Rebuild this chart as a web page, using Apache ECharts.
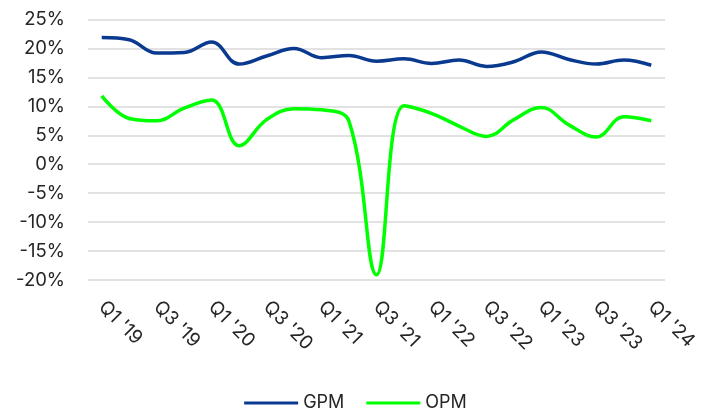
<!DOCTYPE html>
<html><head><meta charset="utf-8">
<script src="https://cdn.jsdelivr.net/npm/echarts@6/dist/echarts.min.js"></script>
<style>html,body{margin:0;padding:0;background:#fff}#c{width:711px;height:412px}</style>
</head><body><div id="c"></div>
<script>
const categories = ["Q1 '19","Q2 '19","Q3 '19","Q4 '19","Q1 '20","Q2 '20","Q3 '20","Q4 '20","Q1 '21","Q2 '21","Q3 '21","Q4 '21","Q1 '22","Q2 '22","Q3 '22","Q4 '22","Q1 '23","Q2 '23","Q3 '23","Q4 '23","Q1 '24"];
const gpm = [21.9,21.5,19.2,19.3,21.1,17.3,18.7,20.0,18.4,18.8,17.8,18.2,17.4,18.0,16.9,17.7,19.4,18.1,17.3,18.0,17.1];
const opm = [11.8,7.9,7.5,9.7,11.1,3.2,7.7,9.6,9.4,7.4,-19.1,10.1,8.8,6.6,4.8,7.7,9.8,6.8,4.7,8.2,7.5];
const yMin = -20, yMax = 25, yStep = 5;

const chart = echarts.init(document.getElementById('c'), null, {renderer:'canvas'});
const font = 'Inter';
chart.setOption({
  animation:false,
  grid:{left:88,right:46,top:19.5,bottom:132,containLabel:false},
  legend:{
    top:389, left:'center', itemWidth:54, itemHeight:3, itemGap:22,
    icon:'rect',
    textStyle:{fontFamily:font,fontSize:18,color:'#262626'},
    data:['GPM','OPM']
  },
  xAxis:{
    type:'category', data:categories, boundaryGap:true,
    axisLine:{show:false}, axisTick:{show:false},
    axisLabel:{interval:1, rotate:-45, margin:24, fontFamily:font, fontSize:19, color:'#262626'}
  },
  yAxis:{
    type:'value', min:yMin, max:yMax, interval:yStep,
    axisLine:{show:false}, axisTick:{show:false},
    axisLabel:{formatter:'{value}%', margin:23, fontFamily:font, fontSize:18.5, color:'#262626'},
    splitLine:{lineStyle:{color:'#d9d9d9',width:1.5}}
  },
  series:[
    {name:'GPM',type:'line',data:gpm,smooth:0.4,symbol:'none',lineStyle:{color:'#0a3a8f',width:3.5},itemStyle:{color:'#0a3a8f'}},
    {name:'OPM',type:'line',data:opm,smooth:0.4,symbol:'none',lineStyle:{color:'#00ff00',width:3.5},itemStyle:{color:'#00ff00'}}
  ]
});
</script></body></html>
